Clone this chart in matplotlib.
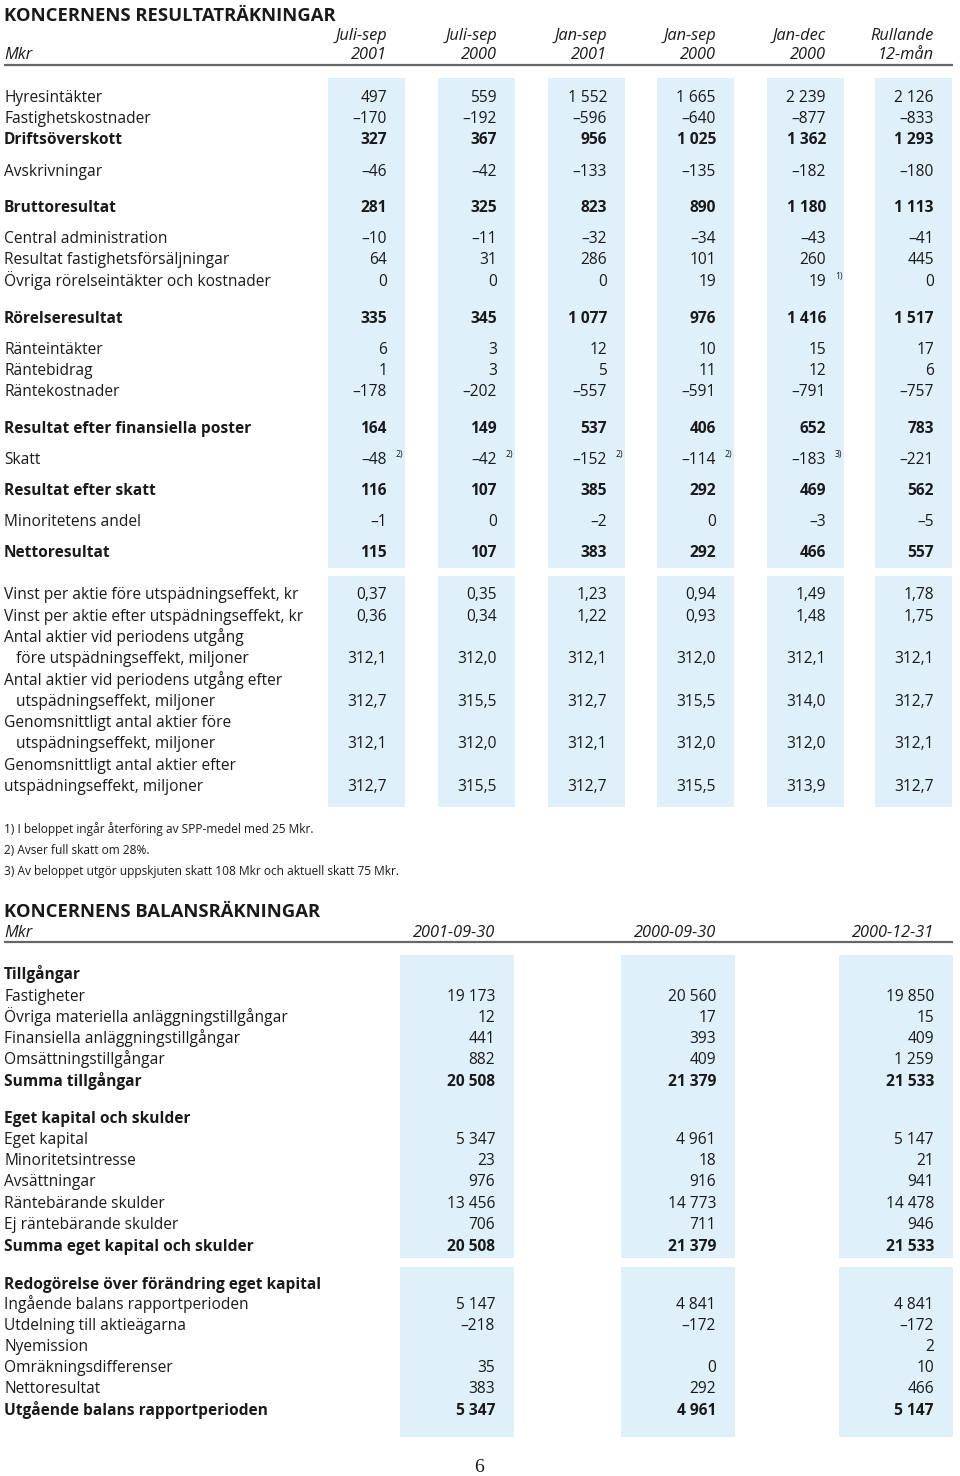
import matplotlib.pyplot as plt
from matplotlib.patches import Rectangle

plt.rcParams['font.family'] = ['Open Sans', 'DejaVu Sans']

# --- resultaträkning ---
inc_cols_top = ['Juli-sep', 'Juli-sep', 'Jan-sep', 'Jan-sep', 'Jan-dec', 'Rullande']
inc_cols_bot = ['2001', '2000', '2001', '2000', '2000', '12-mån']

inc_labels = ['Hyresintäkter', 'Fastighetskostnader', 'Driftsöverskott', 'Avskrivningar',
              'Bruttoresultat', 'Central administration', 'Resultat fastighetsförsäljningar',
              'Övriga rörelseintäkter och kostnader', 'Rörelseresultat', 'Ränteintäkter',
              'Räntebidrag', 'Räntekostnader', 'Resultat efter finansiella poster', 'Skatt',
              'Resultat efter skatt', 'Minoritetens andel', 'Nettoresultat']
inc_bold = [False, False, True, False, True, False, False, False, True, False,
            False, False, True, False, True, False, True]
inc_values = [
    [497, 559, 1552, 1665, 2239, 2126],
    [-170, -192, -596, -640, -877, -833],
    [327, 367, 956, 1025, 1362, 1293],
    [-46, -42, -133, -135, -182, -180],
    [281, 325, 823, 890, 1180, 1113],
    [-10, -11, -32, -34, -43, -41],
    [64, 31, 286, 101, 260, 445],
    [0, 0, 0, 19, 19, 0],
    [335, 345, 1077, 976, 1416, 1517],
    [6, 3, 12, 10, 15, 17],
    [1, 3, 5, 11, 12, 6],
    [-178, -202, -557, -591, -791, -757],
    [164, 149, 537, 406, 652, 783],
    [-48, -42, -152, -114, -183, -221],
    [116, 107, 385, 292, 469, 562],
    [-1, 0, -2, 0, -3, -5],
    [115, 107, 383, 292, 466, 557],
]
# (row, col, note)
inc_notes = [(7, 4, '1)'), (13, 0, '2)'), (13, 1, '2)'), (13, 2, '2)'), (13, 3, '2)'), (13, 4, '3)')]

share_labels = ['Vinst per aktie före utspädningseffekt, kr',
                'Vinst per aktie efter utspädningseffekt, kr',
                'Antal aktier vid periodens utgång',
                '   före utspädningseffekt, miljoner',
                'Antal aktier vid periodens utgång efter',
                '   utspädningseffekt, miljoner',
                'Genomsnittligt antal aktier före',
                '   utspädningseffekt, miljoner',
                'Genomsnittligt antal aktier efter',
                'utspädningseffekt, miljoner']
share_values = [
    [0.37, 0.35, 1.23, 0.94, 1.49, 1.78],
    [0.36, 0.34, 1.22, 0.93, 1.48, 1.75],
    None,
    [312.1, 312.0, 312.1, 312.0, 312.1, 312.1],
    None,
    [312.7, 315.5, 312.7, 315.5, 314.0, 312.7],
    None,
    [312.1, 312.0, 312.1, 312.0, 312.0, 312.1],
    None,
    [312.7, 315.5, 312.7, 315.5, 313.9, 312.7],
]
share_decimals = [2, 2, 0, 1, 0, 1, 0, 1, 0, 1]

footnotes = ['1) I beloppet ingår återföring av SPP-medel med 25 Mkr.',
             '2) Avser full skatt om 28%.',
             '3) Av beloppet utgör uppskjuten skatt 108 Mkr och aktuell skatt 75 Mkr.']

# --- balansräkning ---
bal_cols = ['2001-09-30', '2000-09-30', '2000-12-31']
bal_labels = ['Tillgångar', 'Fastigheter', 'Övriga materiella anläggningstillgångar',
              'Finansiella anläggningstillgångar', 'Omsättningstillgångar', 'Summa tillgångar',
              'Eget kapital och skulder', 'Eget kapital', 'Minoritetsintresse', 'Avsättningar',
              'Räntebärande skulder', 'Ej räntebärande skulder', 'Summa eget kapital och skulder',
              'Redogörelse över förändring eget kapital', 'Ingående balans rapportperioden',
              'Utdelning till aktieägarna', 'Nyemission', 'Omräkningsdifferenser',
              'Nettoresultat', 'Utgående balans rapportperioden']
bal_bold = [True, False, False, False, False, True, True, False, False, False, False, False,
            True, True, False, False, False, False, False, True]
bal_values = [
    None,
    [19173, 20560, 19850],
    [12, 17, 15],
    [441, 393, 409],
    [882, 409, 1259],
    [20508, 21379, 21533],
    None,
    [5347, 4961, 5147],
    [23, 18, 21],
    [976, 916, 941],
    [13456, 14773, 14478],
    [706, 711, 946],
    [20508, 21379, 21533],
    None,
    [5147, 4841, 4841],
    [-218, -172, -172],
    [None, None, 2],
    [35, 0, 10],
    [383, 292, 466],
    [5347, 4961, 5147],
]

# layout (pixels)
inc_y = [96, 117, 138, 170, 206, 237, 258, 280, 317, 348, 369, 390, 427, 458, 489, 520, 551]
share_y = [593, 615, 636, 657, 679, 700, 721, 742, 764, 785]
foot_y = [829, 850, 871]
inc_x = [387, 497, 607, 716, 826, 934]
bal_y = [973, 995, 1016, 1037, 1058, 1080, 1117, 1138, 1159, 1180, 1202, 1223, 1245,
         1283, 1303, 1324, 1345, 1366, 1387, 1409]
bal_x = [495, 716, 934]

BAND = '#dff0fb'
FS = 11.2
HS = 11.8  # italic column heads
BL = 6  # baseline offset from visual centre
INK = '#1a1a1a'


def fmt(v, dec=0):
    if v is None:
        return ''
    if dec:
        s = f'{abs(v):.{dec}f}'.replace('.', ',')
    else:
        s = f'{abs(v):,}'.replace(',', ' ')
    return ('–' if v < 0 else '') + s


fig = plt.figure(figsize=(9.6, 14.76), dpi=100)
ax = fig.add_axes([0, 0, 1, 1])
ax.set_xlim(0, 960)
ax.set_ylim(1476, 0)
ax.axis('off')

# bands
for x in inc_x:
    ax.add_patch(Rectangle((x - 59, 78), 77, 490, color=BAND, lw=0))
    ax.add_patch(Rectangle((x - 59, 576), 77, 231, color=BAND, lw=0))
for x in bal_x:
    ax.add_patch(Rectangle((x - 95, 955), 114, 303, color=BAND, lw=0))
    ax.add_patch(Rectangle((x - 95, 1267), 114, 170, color=BAND, lw=0))

# income statement header
ax.text(4, 14 + 7, 'KONCERNENS RESULTATRÄKNINGAR', fontsize=13.3, fontweight='bold',
        va='baseline', color=INK)
ax.text(4, 53 + BL, 'Mkr', fontsize=HS, style='italic', va='baseline', color=INK)
for x, t, b in zip(inc_x, inc_cols_top, inc_cols_bot):
    ax.text(x, 34 + BL, t, fontsize=HS, style='italic', ha='right', va='baseline', color=INK)
    ax.text(x, 53 + BL, b, fontsize=HS, style='italic', ha='right', va='baseline', color=INK)
ax.plot([4, 953], [65, 65], color='#666666', lw=1.6, solid_capstyle='butt')

for lab, y, bold, vals in zip(inc_labels, inc_y, inc_bold, inc_values):
    w = 'bold' if bold else 'normal'
    ax.text(4, y + BL, lab, fontsize=FS, fontweight=w, va='baseline', color=INK)
    for x, v in zip(inc_x, vals):
        ax.text(x, y + BL, fmt(v), fontsize=FS, fontweight=w, ha='right', va='baseline', color=INK)
for r, c, note in inc_notes:
    ax.text(inc_x[c] + 9, inc_y[r] - 1, note, fontsize=6.2, va='baseline', color=INK)

for lab, y, vals, dec in zip(share_labels, share_y, share_values, share_decimals):
    ax.text(4, y + BL, lab, fontsize=FS, va='baseline', color=INK)
    if vals:
        for x, v in zip(inc_x, vals):
            ax.text(x, y + BL, fmt(v, dec), fontsize=FS, ha='right', va='baseline', color=INK)

for t, y in zip(footnotes, foot_y):
    ax.text(4, y + 4, t, fontsize=8.55, va='baseline', color=INK)

# balance sheet
ax.text(4, 910 + 7, 'KONCERNENS BALANSRÄKNINGAR', fontsize=13.3, fontweight='bold',
        va='baseline', color=INK)
ax.text(4, 931 + BL, 'Mkr', fontsize=HS, style='italic', va='baseline', color=INK)
for x, t in zip(bal_x, bal_cols):
    ax.text(x, 931 + BL, t, fontsize=HS, style='italic', ha='right', va='baseline', color=INK)
ax.plot([4, 953], [942, 942], color='#666666', lw=1.6, solid_capstyle='butt')

for lab, y, bold, vals in zip(bal_labels, bal_y, bal_bold, bal_values):
    w = 'bold' if bold else 'normal'
    ax.text(4, y + BL, lab, fontsize=FS, fontweight=w, va='baseline', color=INK)
    if vals:
        for x, v in zip(bal_x, vals):
            ax.text(x, y + BL, fmt(v), fontsize=FS, fontweight=w, ha='right', va='baseline', color=INK)

ax.text(479, 1468, '6', fontsize=14, family='Liberation Serif', ha='center', va='center', color=INK)

fig.savefig('out.png', dpi=100)
